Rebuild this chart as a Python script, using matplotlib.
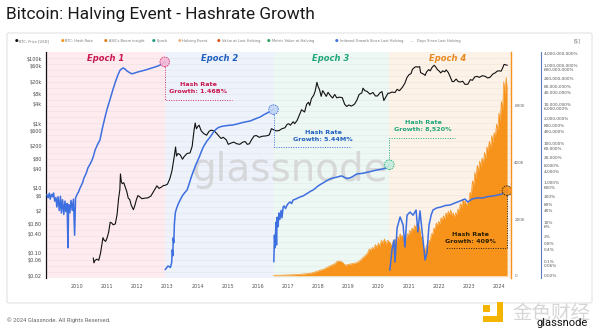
import numpy as np
import matplotlib.pyplot as plt
from matplotlib.patches import FancyBboxPatch, Rectangle

# ---- data -------------------------------------------------------------
halvings = [2012.91, 2016.52, 2020.36]
x_start, x_end = 2008.97, 2024.40
epoch_names = ["Epoch 1", "Epoch 2", "Epoch 3", "Epoch 4"]
epoch_label_x = [2010.95, 2014.72, 2018.43, 2022.29]

# BTC price (USD)
btc_year = [2010.54, 2010.56, 2010.60, 2010.66, 2010.72, 2010.78, 2010.84, 2010.86, 2010.90, 2010.95,
            2011.00, 2011.05, 2011.10, 2011.15, 2011.20, 2011.27, 2011.33, 2011.38, 2011.42, 2011.44,
            2011.47, 2011.50, 2011.55, 2011.60, 2011.65, 2011.70, 2011.75, 2011.80, 2011.87, 2011.92,
            2011.97, 2012.02, 2012.08, 2012.15, 2012.25, 2012.35, 2012.45, 2012.52, 2012.60, 2012.65,
            2012.72, 2012.80, 2012.87, 2012.92, 2013.00, 2013.08, 2013.15, 2013.22, 2013.27, 2013.30,
            2013.35, 2013.42, 2013.50, 2013.55, 2013.65, 2013.75, 2013.82, 2013.88, 2013.92, 2013.96,
            2014.00, 2014.05, 2014.12, 2014.20, 2014.30, 2014.38, 2014.45, 2014.55, 2014.65, 2014.72,
            2014.78, 2014.85, 2014.95, 2015.02, 2015.10, 2015.20, 2015.30, 2015.40, 2015.50, 2015.58,
            2015.65, 2015.72, 2015.80, 2015.88, 2015.95, 2016.05, 2016.15, 2016.28, 2016.38, 2016.45,
            2016.52, 2016.60, 2016.70, 2016.80, 2016.90, 2016.97, 2017.02, 2017.08, 2017.17, 2017.22,
            2017.30, 2017.38, 2017.45, 2017.50, 2017.55, 2017.62, 2017.68, 2017.72, 2017.78, 2017.85,
            2017.90, 2017.96, 2018.00, 2018.05, 2018.10, 2018.15, 2018.20, 2018.27, 2018.33, 2018.40,
            2018.48, 2018.55, 2018.62, 2018.70, 2018.80, 2018.88, 2018.95, 2019.02, 2019.10, 2019.20,
            2019.28, 2019.36, 2019.45, 2019.49, 2019.55, 2019.62, 2019.72, 2019.82, 2019.90, 2019.97,
            2020.05, 2020.12, 2020.18, 2020.25, 2020.32, 2020.36, 2020.45, 2020.55, 2020.62, 2020.70,
            2020.80, 2020.88, 2020.95, 2021.02, 2021.08, 2021.13, 2021.20, 2021.25, 2021.30, 2021.37,
            2021.40, 2021.47, 2021.52, 2021.55, 2021.60, 2021.67, 2021.72, 2021.78, 2021.85, 2021.90,
            2021.95, 2022.02, 2022.07, 2022.13, 2022.20, 2022.25, 2022.32, 2022.37, 2022.45, 2022.50,
            2022.58, 2022.65, 2022.72, 2022.80, 2022.87, 2022.97, 2023.05, 2023.12, 2023.20, 2023.28,
            2023.35, 2023.45, 2023.55, 2023.62, 2023.70, 2023.80, 2023.87, 2023.95, 2024.02, 2024.07,
            2024.12, 2024.17, 2024.20, 2024.27]
btc_price = [0.07, 0.05, 0.06, 0.065, 0.06, 0.10, 0.22, 0.30, 0.25, 0.23,
             0.30, 0.45, 0.90, 0.85, 0.75, 0.80, 1.6, 5, 9, 28,
             16, 14, 15, 11, 8, 5, 4.5, 3, 2.2, 3,
             4.5, 6, 5.5, 4.8, 5, 5.1, 5.8, 7.5, 10, 12,
             10, 11, 12.3, 12.4, 13.5, 20, 35, 90, 190, 100,
             120, 110, 80, 95, 120, 125, 200, 600, 1050, 700,
             800, 900, 600, 500, 440, 580, 630, 600, 480, 400,
             350, 380, 320, 230, 250, 270, 240, 230, 270, 280,
             230, 240, 330, 420, 430, 380, 410, 420, 450, 700,
             650, 600, 610, 700, 750, 950, 1000, 900, 1150, 1000,
             1250, 1900, 2700, 2500, 2300, 4000, 4600, 3700, 6000, 7500,
             10000, 19000, 14000, 11000, 7000, 10500, 9000, 7000, 9300, 7500,
             6200, 8000, 6300, 6600, 6400, 4000, 3400, 3800, 3500, 3950,
             5200, 8000, 9000, 12500, 10500, 10000, 8200, 9200, 7200, 7200,
             9000, 9800, 5200, 6800, 8800, 8700, 9500, 9200, 11500, 10500,
             13500, 18000, 27000, 33000, 35000, 48000, 55000, 58000, 56000, 58000,
             38000, 35000, 33000, 31000, 40000, 47000, 43000, 55000, 64000, 57000,
             48000, 42000, 37000, 43000, 40000, 46000, 38000, 30000, 20000, 20000,
             24000, 20000, 19500, 20500, 16500, 16600, 23000, 22000, 28000, 29000,
             27000, 30500, 29000, 26000, 27000, 34500, 37000, 42500, 43000, 42000,
             52000, 68000, 67000, 64000]

# BTC hash rate (EH/s)
hash_year = [2016.52, 2016.80, 2017.00, 2017.20, 2017.40, 2017.60, 2017.80, 2018.00, 2018.20, 2018.40,
             2018.55, 2018.62, 2018.70, 2018.80, 2018.90, 2019.00, 2019.10, 2019.20, 2019.30, 2019.40,
             2019.50, 2019.60, 2019.65, 2019.70, 2019.75, 2019.80, 2019.85, 2019.90, 2019.95, 2020.00,
             2020.05, 2020.10, 2020.15, 2020.20, 2020.25, 2020.30, 2020.36,
             2020.40, 2020.44, 2020.48, 2020.52, 2020.56, 2020.60, 2020.64, 2020.68, 2020.72, 2020.76,
             2020.80, 2020.84, 2020.88, 2020.92, 2020.96, 2021.00, 2021.04, 2021.08, 2021.12, 2021.16,
             2021.20, 2021.24, 2021.28, 2021.32, 2021.36, 2021.40, 2021.44, 2021.48, 2021.52, 2021.56,
             2021.60, 2021.64, 2021.68, 2021.72, 2021.76, 2021.80, 2021.84, 2021.88, 2021.92, 2021.96,
             2022.00, 2022.04, 2022.08, 2022.12, 2022.16, 2022.20, 2022.24, 2022.28, 2022.32, 2022.36,
             2022.40, 2022.44, 2022.48, 2022.52, 2022.56, 2022.60, 2022.64, 2022.68, 2022.72, 2022.76,
             2022.80, 2022.84, 2022.88, 2022.92, 2022.96, 2023.00, 2023.04, 2023.08, 2023.12, 2023.16,
             2023.20, 2023.24, 2023.28, 2023.32, 2023.36, 2023.40, 2023.44, 2023.48, 2023.52, 2023.56,
             2023.60, 2023.64, 2023.68, 2023.72, 2023.76, 2023.80, 2023.84, 2023.88, 2023.92, 2023.96,
             2024.00, 2024.04, 2024.08, 2024.12, 2024.16, 2024.20, 2024.24, 2024.27]
hash_ehs = [1.5, 2.0, 2.8, 3.5, 5, 7, 10, 17, 24, 35,
            42, 50, 52, 48, 37, 40, 42, 44, 47, 55,
            65, 75, 82, 95, 90, 100, 95, 110, 100, 115,
            105, 125, 115, 130, 110, 125, 120,
            115, 100, 120, 110, 128, 120, 138, 130, 148, 138,
            142, 118, 132, 130, 148, 142, 160, 152, 168, 158,
            178, 168, 182, 162, 176, 140, 135, 105, 92, 90,
            108, 105, 125, 125, 148, 145, 168, 165, 186, 178,
            192, 184, 205, 195, 212, 200, 222, 210, 228, 215,
            232, 212, 222, 205, 222, 215, 236, 226, 255, 242,
            270, 255, 265, 245, 262, 258, 295, 285, 335, 318,
            365, 345, 390, 368, 405, 385, 415, 395, 435, 415,
            455, 440, 475, 450, 495, 470, 505, 490, 535, 515,
            575, 545, 615, 585, 685, 640, 700, 660]

# Indexed hash-rate growth since last halving (%), one series per epoch
e1_year = [2009.00, 2009.04, 2009.08, 2009.11, 2009.15, 2009.19, 2009.22, 2009.26, 2009.30, 2009.33,
           2009.37, 2009.41, 2009.45, 2009.48, 2009.52, 2009.56, 2009.60, 2009.63, 2009.67, 2009.70,
           2009.72, 2009.76, 2009.80, 2009.84, 2009.88, 2009.92, 2009.95, 2010.00, 2010.05, 2010.10,
           2010.18, 2010.23, 2010.30, 2010.36, 2010.43, 2010.50, 2010.55, 2010.60, 2010.68, 2010.76,
           2010.85, 2010.93, 2011.00, 2011.09, 2011.18, 2011.26, 2011.35, 2011.43, 2011.53, 2011.60,
           2011.66, 2011.74, 2011.82, 2011.92, 2012.02, 2012.14, 2012.26, 2012.38, 2012.49, 2012.60,
           2012.69, 2012.80, 2012.91]
e1_pct = [250, 180, 300, 150, 260, 200, 310, 120, 180, 60,
          200, 40, 210, 30, 140, 25, 120, 35, 90, 0.5,
          80, 30, 130, 40, 150, 2.2, 170, 260, 350, 560,
          1000, 1800, 3000, 5800, 9000, 14800, 25000, 48000, 90000, 155000,
          700000, 2.3e6, 6e6, 1.7e7, 5e7, 1.23e8, 3e8, 5.6e8, 7.2e8, 6.2e8,
          5e8, 4.2e8, 3.6e8, 4e8, 4.5e8, 5e8, 5.6e8, 6.4e8, 7.2e8, 8.2e8,
          9.1e8, 1.1e9, 1.46e9]
e2_year = [2012.93, 2013.02, 2013.10, 2013.14, 2013.16, 2013.18, 2013.19, 2013.21, 2013.23, 2013.26,
           2013.30, 2013.35, 2013.42, 2013.50, 2013.58, 2013.65, 2013.72, 2013.78, 2013.85, 2013.95,
           2014.05, 2014.12, 2014.19, 2014.30, 2014.42, 2014.52, 2014.62, 2014.70, 2014.80, 2014.95,
           2015.10, 2015.18, 2015.30, 2015.45, 2015.60, 2015.75, 2015.90, 2016.08, 2016.20, 2016.30,
           2016.40, 2016.52]
e2_pct = [0.04, 0.06, 0.05, 0.09, 0.4, 0.2, 1.6, 0.9, 8, 30,
          50, 80, 135, 230, 330, 437, 900, 1800, 3640, 9000,
          20000, 38000, 68000, 130000, 220000, 380000, 560000, 680000, 760000, 830000,
          880000, 900000, 1e6, 1.15e6, 1.3e6, 1.44e6, 1.8e6, 2.3e6, 3e6, 3.6e6,
          4.3e6, 5.44e6]
e3_year = [2016.53, 2016.55, 2016.57, 2016.60, 2016.62, 2016.64, 2016.67, 2016.70, 2016.73, 2016.77,
           2016.80, 2016.84, 2016.87, 2016.92, 2016.97, 2017.02, 2017.07, 2017.12, 2017.17, 2017.25,
           2017.33, 2017.42, 2017.50, 2017.58, 2017.66, 2017.75, 2017.83, 2017.92, 2018.00, 2018.08,
           2018.16, 2018.28, 2018.39, 2018.50, 2018.63, 2018.72, 2018.79, 2018.88, 2018.96, 2019.04,
           2019.12, 2019.20, 2019.29, 2019.40, 2019.52, 2019.62, 2019.72, 2019.84, 2019.95, 2020.05,
           2020.15, 2020.22, 2020.29, 2020.36]
e3_pct = [0.1, 2.2, 0.5, 10, 0.7, 18, 6, 30, 14, 40,
          17, 60, 68, 50, 75, 95, 108, 90, 136, 150,
          174, 200, 218, 260, 310, 380, 437, 560, 710, 850,
          1000, 1300, 1600, 1800, 2000, 2200, 2280, 1900, 1700, 1800,
          2000, 2400, 2900, 3000, 3200, 3500, 3750, 4200, 4600, 4900,
          5200, 5600, 6200, 8520]
e4_year = [2020.38, 2020.45, 2020.52, 2020.55, 2020.62, 2020.72, 2020.82, 2020.88, 2020.95, 2021.05,
           2021.15, 2021.25, 2021.31, 2021.38, 2021.48, 2021.55, 2021.61, 2021.68, 2021.75, 2021.81,
           2021.94, 2022.08, 2022.21, 2022.38, 2022.54, 2022.71, 2022.87, 2022.97, 2023.11, 2023.27,
           2023.47, 2023.64, 2023.81, 2023.97, 2024.10, 2024.27]
e4_pct = [0.037, 0.39, 1.26, 0.095, 5.1, 18.6, 7.3, 0.55, 23, 33,
          23, 42, 3.2, 38, 1.26, 0.12, 0.27, 7.3, 23, 42,
          54, 60, 71, 76, 96, 121, 153, 108, 153, 174,
          174, 205, 218, 246, 275, 409]

growth = [1.46e9, 5.44e6, 8520, 409]

# ---- styling ------------------------------------------------------------
bg_colors = ["#fdebef", "#edf2fb", "#edf7f3", "#fdf2e8"]
epoch_colors = ["#c8164f", "#1f5fc0", "#1fa67a", "#e8871e"]
text_colors = ["#c8164f", "#1f5fc0", "#1fa67a", "#2a1e00"]
circle_faces = ["#f5b8d6", "#c3d6f5", "#c6eedd", "#f7931a"]
circle_edges = ["#d6306f", "#3d6fe0", "#22b07d", "#222222"]
blue = "#3d6fe0"
orange = "#f7931a"


def fmt_growth(v):
    if v >= 1e9:
        return f"{v / 1e9:.2f}B%"
    if v >= 1e6:
        return f"{v / 1e6:.2f}M%"
    return f"{v:,.0f}%"


W, H = 600, 334
fig = plt.figure(figsize=(6, 3.34), dpi=100)
fig.patch.set_facecolor("white")

# white card behind the chart
card = FancyBboxPatch((7 / W, 1 - 303 / H), 585 / W, 270 / H,
                      boxstyle="round,pad=0,rounding_size=0.004",
                      transform=fig.transFigure, facecolor="white",
                      edgecolor="#e3e3e3", lw=0.8, zorder=-10)
fig.patches.append(card)

fig.text(6 / W, 1 - 15 / H, "Bitcoin: Halving Event - Hashrate Growth",
         fontsize=12.4, family="Roboto", color="#1a1a1a", va="center")

# legend row
legend_items = [
    (16.7, "#111111", "BTC: Price [USD]"),
    (62.7, orange, "BTC: Hash Rate"),
    (106, "#e07b1a", "ASICs Boom insight"),
    (154, "#1a9a7a", "Epoch"),
    (180, "#f0b37e", "Halving Event"),
    (219, "#e0531f", "Value at Last Halving"),
    (269, "#2aa05a", "Metric Value at Halving"),
    (337, blue, "Indexed Growth Since Last Halving"),
]
for xp, c, lab in legend_items:
    fig.text(xp / W, 1 - 41 / H, "\u25cf", fontsize=3, color=c, ha="center", va="center")
    fig.text((xp + 2.5) / W, 1 - 41 / H, lab, fontsize=2.6, color="#777777", va="center")
fig.text(410 / W, 1 - 41 / H, "\u2014", fontsize=3, color="#aaaaaa", va="center")
fig.text(417 / W, 1 - 41 / H, "Days Since Last Halving", fontsize=2.6, color="#777777", va="center")
fig.text(577 / W, 1 - 42 / H, "[$]", fontsize=3.5, color="#777777", ha="center", va="center")

# ---- axes -------------------------------------------------------------
ax = fig.add_axes([46 / W, 1 - 278 / H, 465 / W, 226 / H])   # hash rate
ax_p = ax.twinx()                                            # price
ax_g = ax.twinx()                                            # indexed growth

ax.set_xlim(x_start, x_end)
ax.set_ylim(-8, 790)
ax.set_facecolor("white")

bounds = [x_start] + halvings + [x_end]
for i in range(4):
    ax.axvspan(bounds[i], bounds[i + 1], color=bg_colors[i], lw=0, zorder=0)
ax.hlines(np.linspace(0, 1, 39)[1:-1], 0, 1, transform=ax.transAxes,
          color="black", alpha=0.045, lw=0.5, zorder=0.5)

ax.text(0.525, 0.48, "glassnode", transform=ax.transAxes, fontsize=28,
        color="#cfcfcf", alpha=0.75, ha="center", va="center", zorder=1)

ax.fill_between(hash_year, hash_ehs, 0, color=orange, lw=0, zorder=2)
ax.plot(hash_year, hash_ehs, color=orange, lw=0.5, zorder=2)

ax.yaxis.tick_right()
ax.set_yticks([0, 200, 400, 600])
ax.set_yticklabels(["0", "200E", "400E", "600E"])
ax.tick_params(axis="y", length=0, pad=2.4, labelsize=3, labelcolor="#666666")
ax.set_xticks(range(2010, 2025))
ax.set_xticklabels([str(y) for y in range(2010, 2025)])
ax.tick_params(axis="x", length=0, pad=4, labelsize=3.6, labelcolor="#555555")
for s in ["top", "bottom"]:
    ax.spines[s].set_visible(False)
ax.spines["left"].set_color("#111111")
ax.spines["left"].set_linewidth(0.9)
ax.spines["right"].set_color(orange)
ax.spines["right"].set_linewidth(1.0)

# price on a log scale, labels on the left
ax_p.set_yscale("log")
ax_p.set_ylim(0.017, 164500)
ax_p.yaxis.tick_left()
price_ticks = [0.02, 0.06, 0.1, 0.4, 0.8, 2, 6, 10, 40, 80, 200, 600,
               1000, 4000, 8000, 20000, 60000, 100000]
price_labels = ["$0.02", "$0.06", "$0.10", "$0.40", "$0.80", "$2", "$6", "$10",
                "$40", "$80", "$200", "$600", "$1k", "$4k", "$8k", "$20k", "$60k", "$100k"]
ax_p.set_yticks(price_ticks)
ax_p.set_yticklabels(price_labels)
ax_p.yaxis.set_minor_locator(plt.NullLocator())
ax_p.tick_params(axis="y", which="both", length=0, pad=3.1, labelsize=3.5, labelcolor="#444444")
for s in ax_p.spines.values():
    s.set_visible(False)
ax_p.plot(btc_year, btc_price, color="#111111", lw=0.8, zorder=3)

# indexed growth on its own log axis, offset to the right
ax_g.set_yscale("log")
ax_g.set_ylim(0.01458, 4.66e9)
ax_g.spines["right"].set_position(("axes", 1 + 30 / 465))
for s in ["top", "bottom", "left"]:
    ax_g.spines[s].set_visible(False)
ax_g.spines["right"].set_color("#5a7fc0")
ax_g.spines["right"].set_linewidth(0.8)
pct_ticks = [0.02, 0.06, 0.1, 0.4, 0.8, 2, 6, 10, 40, 80, 200, 600, 1000, 4000, 8000,
             20000, 60000, 1e5, 4e5, 8e5, 2e6, 6e6, 1e7, 4e7, 8e7, 2e8, 6e8, 1e9, 4e9]
pct_labels = [("{:,}".format(int(v)) if v >= 1 else "{:g}".format(v)) + "%" for v in pct_ticks]
ax_g.set_yticks(pct_ticks)
ax_g.set_yticklabels(pct_labels)
ax_g.yaxis.set_minor_locator(plt.NullLocator())
ax_g.tick_params(axis="y", which="both", length=0, pad=1.7, labelsize=3.1, labelcolor="#555555")

series = [(e1_year, e1_pct), (e2_year, e2_pct), (e3_year, e3_pct), (e4_year, e4_pct)]
for xs, ys in series:
    ax_g.plot(xs, ys, color=blue, lw=1.1, zorder=4)

# end-of-epoch markers with their growth callouts
callouts = [
    # (line path x, line path y, text x, text y)
    ([2012.91, 2012.91, 2015.14], [1.46e9, 1.7e7, 1.7e7], 2014.03, 6.9e7),
    ([2016.52, 2016.52, 2019.06], [5.44e6, 7.1e4, 7.1e4], 2018.16, 2.6e5),
    ([2020.36, 2020.36, 2022.54], [8520, 2.0e5, 2.0e5], 2021.48, 7.96e5),
    ([2024.27, 2024.27, 2022.21], [409, 0.49, 0.49], 2023.07, 1.67),
]
for i, (lx, ly, tx, ty) in enumerate(callouts):
    xs, ys = series[i]
    ax_g.plot(lx, ly, color=circle_edges[i], lw=0.7, ls=(0, (1, 1.5)), zorder=5)
    ax_g.scatter([xs[-1]], [ys[-1]], s=48, facecolor=circle_faces[i], edgecolor=circle_edges[i],
                 linestyle=(0, (1.5, 1)), lw=0.7, alpha=0.9, zorder=6)
    ax_g.text(tx, ty, "Hash Rate\nGrowth: " + fmt_growth(growth[i]), ha="center", va="center",
              fontsize=4.6, fontweight="bold", color=text_colors[i], linespacing=1.5, zorder=7)
    ax_g.text(epoch_label_x[i], 0.972, epoch_names[i], transform=ax_g.get_xaxis_transform(),
              ha="center", va="center", fontsize=6, fontweight="bold", style="italic",
              color=epoch_colors[i], zorder=7)

# footer
fig.text(7 / W, 1 - 320 / H, "\u00a9 2024 Glassnode. All Rights Reserved.",
         fontsize=4.2, family="Roboto", color="#666666", va="center")
for rx, ry, rw, rh in [(497, 302, 6, 20), (483, 316, 20, 6), (483, 305, 7, 7)]:
    fig.patches.append(Rectangle((rx / W, 1 - (ry + rh) / H), rw / W, rh / H,
                                 transform=fig.transFigure, facecolor="#f4b400", lw=0))
fig.text(512 / W, 1 - 313 / H, "金色财经", fontsize=14, family=["Noto Sans CJK SC"],
         color="#d6d6d6", va="center")
fig.text(588 / W, 1 - 323 / H, "glassnode", fontsize=8, family="Roboto",
         color="#111111", ha="right", va="center")

fig.savefig("out.png", dpi=100)
